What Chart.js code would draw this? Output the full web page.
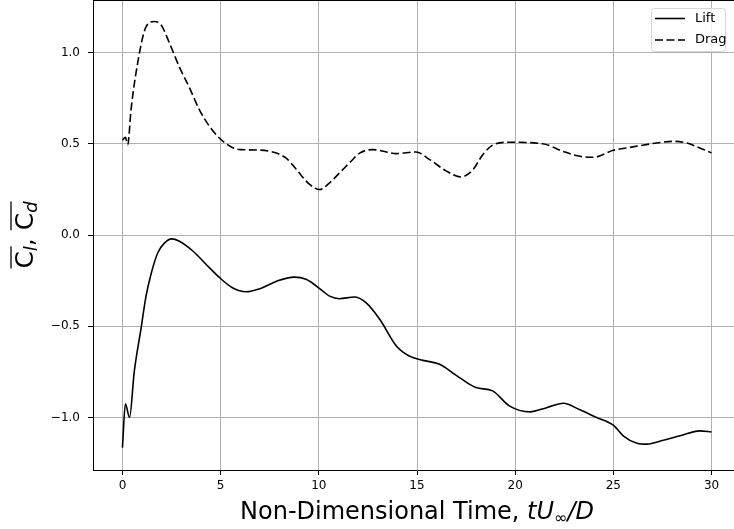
<!DOCTYPE html>
<html>
<head>
<meta charset="utf-8">
<script src="https://cdn.jsdelivr.net/npm/chart.js@4/dist/chart.umd.min.js"></script>
<style>
html,body{margin:0;padding:0;background:#fff;overflow:hidden;}
#wrap{width:734px;height:529px;overflow:hidden;position:relative;background:#fff;}
canvas{display:block;position:absolute;left:0;top:0;}
</style>
</head>
<body>
<div id="wrap"><canvas id="c" width="760" height="529" style="width:760px;height:529px"></canvas></div>
<script>
// ---- data ----
const seriesNames = ["Lift", "Drag"];

const liftTime = [0, 0.15, 0.36, 0.6, 0.95, 1.2, 1.45, 1.8, 2.15, 2.5, 2.9, 3.6, 4.25, 4.95, 5.6, 6.3, 7.0, 7.85, 8.75, 9.35, 10.2, 10.55, 11.05, 11.8, 12.4, 13.1, 13.95, 14.6, 15.3, 16.15, 17.0, 18.0, 18.85, 19.7, 20.75, 21.6, 22.45, 23.3, 24.15, 25.0, 25.5, 26.2, 26.7, 27.55, 28.4, 29.4, 30.0];
const liftValues = [-1.165, -0.925, -1.0, -0.75, -0.51, -0.335, -0.216, -0.097, -0.043, -0.021, -0.034, -0.089, -0.16, -0.234, -0.289, -0.311, -0.294, -0.253, -0.231, -0.243, -0.307, -0.335, -0.349, -0.34, -0.371, -0.462, -0.608, -0.663, -0.687, -0.708, -0.769, -0.836, -0.854, -0.936, -0.969, -0.946, -0.922, -0.958, -1.0, -1.042, -1.1, -1.141, -1.146, -1.124, -1.1, -1.073, -1.079];

const dragTime = [0, 0.15, 0.27, 0.44, 0.87, 1.2, 1.63, 1.97, 2.4, 2.9, 3.4, 3.9, 4.4, 4.95, 5.5, 6.0, 6.8, 7.8, 8.35, 8.85, 9.5, 10.05, 10.55, 11.1, 11.6, 12.1, 12.75, 13.95, 14.95, 15.65, 16.5, 17.25, 17.85, 18.35, 18.9, 19.7, 21.4, 22.45, 23.3, 24.0, 25.0, 25.85, 27.2, 28.1, 28.75, 29.4, 30.0];
const dragValues = [0.52, 0.535, 0.495, 0.69, 1.0, 1.14, 1.17, 1.15, 1.05, 0.92, 0.81, 0.69, 0.60, 0.53, 0.485, 0.468, 0.466, 0.45, 0.42, 0.36, 0.28, 0.249, 0.286, 0.345, 0.40, 0.45, 0.468, 0.446, 0.455, 0.413, 0.35, 0.318, 0.358, 0.44, 0.495, 0.508, 0.50, 0.458, 0.431, 0.426, 0.464, 0.48, 0.504, 0.513, 0.504, 0.477, 0.45];

const xTicks = [0, 5, 10, 15, 20, 25, 30];
const xTickLabels = ["0", "5", "10", "15", "20", "25", "30"];
const yTicks = [-1.0, -0.5, 0.0, 0.5, 1.0];
const yTickLabels = ["\u22121.0", "\u22120.5", "0.0", "0.5", "1.0"];

const FONT = "'DejaVu Sans', 'Liberation Sans', sans-serif";
const GRID = "#b0b0b0";

function indexOfTick(ticks, v) {
  for (let i = 0; i < ticks.length; i++) if (Math.abs(ticks[i] - v) < 1e-9) return i;
  return -1;
}
function labelFor(ticks, labels, v) {
  const i = indexOfTick(ticks, v);
  return i < 0 ? "" : labels[i];
}

// draw a run of mixed-style text segments centred on 0
function drawRuns(ctx, runs, overlineY) {
  let total = 0;
  runs.forEach(r => { ctx.font = r.font; r.w = ctx.measureText(r.t).width; total += r.w; });
  let x = -total / 2;
  ctx.textBaseline = "alphabetic";
  ctx.textAlign = "left";
  let olStart = null;
  runs.forEach((r, i) => {
    ctx.font = r.font;
    ctx.fillText(r.t, x, r.dy || 0);
    if (r.over) {
      if (olStart === null) olStart = x;
      const next = runs[i + 1];
      if (!next || !next.over) {
        ctx.beginPath();
        ctx.lineWidth = 1.3;
        ctx.moveTo(olStart, overlineY);
        ctx.lineTo(x + r.w, overlineY);
        ctx.stroke();
        olStart = null;
      }
    }
    x += r.w;
  });
}

const decorPlugin = {
  id: "decor",
  beforeDraw(chart) {
    const ctx = chart.ctx;
    ctx.save();
    ctx.fillStyle = "#fff";
    ctx.fillRect(0, 0, chart.width, chart.height);
    ctx.restore();
  },
  afterDraw(chart) {
    const ctx = chart.ctx;
    const a = chart.chartArea;
    ctx.save();

    // keep the strip at the window's right edge clean (only horizontal grid lines cross it)
    ctx.fillStyle = "#fff";
    ctx.fillRect(729, a.top + 1, 40, a.bottom - a.top - 1.5);
    const ys = chart.scales.y;
    ctx.strokeStyle = GRID;
    ctx.lineWidth = 1;
    yTicks.forEach(v => {
      const py = Math.round(ys.getPixelForValue(v) - 0.5) + 0.5;
      ctx.beginPath();
      ctx.moveTo(729, py);
      ctx.lineTo(a.right, py);
      ctx.stroke();
    });

    // top frame line
    ctx.strokeStyle = "#000";
    ctx.lineWidth = 1;
    ctx.beginPath();
    ctx.moveTo(a.left, a.top + 0.5);
    ctx.lineTo(a.right, a.top + 0.5);
    ctx.stroke();

    ctx.fillStyle = "#000";
    // x axis title centred on the axes
    ctx.save();
    ctx.translate((a.left + a.right) / 2, 519);
    drawRuns(ctx, [
      { t: "Non-Dimensional Time, ", font: "24px " + FONT },
      { t: "tU", font: "italic 24px " + FONT },
      { t: "\u221e", font: "16px " + FONT, dy: 4 },
      { t: "/D", font: "italic 24px " + FONT }
    ], -100);
    ctx.restore();

    // y axis title (rotated)
    ctx.save();
    ctx.translate(33, (a.top + a.bottom) / 2);
    ctx.rotate(-Math.PI / 2);
    ctx.strokeStyle = "#000";
    drawRuns(ctx, [
      { t: "C", font: "25px " + FONT, over: true },
      { t: "l", font: "italic 18px " + FONT, dy: 4, over: true },
      { t: ", ", font: "25px " + FONT },
      { t: "C", font: "25px " + FONT, over: true },
      { t: "d", font: "italic 18px " + FONT, dy: 4, over: true }
    ], -22);
    ctx.restore();

    // legend
    const lx = 651.5, ly = 8.5, lw = 74, lh = 43, r = 3;
    ctx.beginPath();
    ctx.moveTo(lx + r, ly);
    ctx.lineTo(lx + lw - r, ly);
    ctx.quadraticCurveTo(lx + lw, ly, lx + lw, ly + r);
    ctx.lineTo(lx + lw, ly + lh - r);
    ctx.quadraticCurveTo(lx + lw, ly + lh, lx + lw - r, ly + lh);
    ctx.lineTo(lx + r, ly + lh);
    ctx.quadraticCurveTo(lx, ly + lh, lx, ly + lh - r);
    ctx.lineTo(lx, ly + r);
    ctx.quadraticCurveTo(lx, ly, lx + r, ly);
    ctx.closePath();
    ctx.fillStyle = "rgba(255,255,255,0.8)";
    ctx.fill();
    ctx.strokeStyle = "#d6d6d6";
    ctx.lineWidth = 1;
    ctx.stroke();

    chart.data.datasets.forEach((ds, i) => {
      const yy = 18.5 + i * 21.5;
      ctx.beginPath();
      ctx.setLineDash(ds.borderDash || []);
      ctx.strokeStyle = ds.borderColor;
      ctx.lineWidth = ds.borderWidth;
      ctx.moveTo(655, yy);
      ctx.lineTo(685, yy);
      ctx.stroke();
      ctx.setLineDash([]);
      ctx.fillStyle = "#000";
      ctx.font = "13px " + FONT;
      ctx.textAlign = "left";
      ctx.textBaseline = "middle";
      ctx.fillText(ds.label, 695, yy);
    });
    ctx.restore();
  }
};

const chart = new Chart(document.getElementById("c"), {
  type: "line",
  data: {
    datasets: [
      {
        label: seriesNames[0],
        data: liftTime.map((t, i) => ({ x: t, y: liftValues[i] })),
        borderColor: "#000",
        borderWidth: 1.6,
        pointRadius: 0,
        fill: false,
        cubicInterpolationMode: "monotone"
      },
      {
        label: seriesNames[1],
        data: dragTime.map((t, i) => ({ x: t, y: dragValues[i] })),
        borderColor: "#000",
        borderWidth: 1.6,
        borderDash: [8, 3.5],
        pointRadius: 0,
        fill: false,
        cubicInterpolationMode: "monotone"
      }
    ]
  },
  options: {
    responsive: false,
    animation: false,
    devicePixelRatio: 1,
    // the axes extend past the right edge of the 734px window, as in the reference
    layout: { padding: { left: 0, right: 19, top: 0, bottom: 0 } },
    plugins: { legend: { display: false }, tooltip: { enabled: false } },
    scales: {
      x: {
        type: "linear",
        min: -1.5,
        max: 31.5,
        afterBuildTicks: s => { s.ticks = xTicks.map(v => ({ value: v })); },
        afterFit: s => { s.height = 59; s.paddingLeft = 0; s.paddingRight = 0; },
        grid: { color: GRID, lineWidth: 1, tickColor: "#000", tickLength: 5 },
        border: { color: "#000", width: 1 },
        ticks: {
          font: { family: FONT, size: 12 },
          color: "#000",
          padding: 4,
          maxRotation: 0,
          autoSkip: false,
          callback: v => labelFor(xTicks, xTickLabels, v)
        }
      },
      y: {
        type: "linear",
        min: -1.2875,
        max: 1.2875,
        afterBuildTicks: s => { s.ticks = yTicks.map(v => ({ value: v })); },
        afterFit: s => { s.width = 93; s.paddingTop = 0; s.paddingBottom = 0; },
        grid: { color: GRID, lineWidth: 1, tickColor: "#000", tickLength: 5 },
        border: { color: "#000", width: 1 },
        ticks: {
          font: { family: FONT, size: 12 },
          color: "#000",
          padding: 8,
          autoSkip: false,
          callback: v => labelFor(yTicks, yTickLabels, v)
        }
      }
    }
  },
  plugins: [decorPlugin]
});
</script>
</body>
</html>
